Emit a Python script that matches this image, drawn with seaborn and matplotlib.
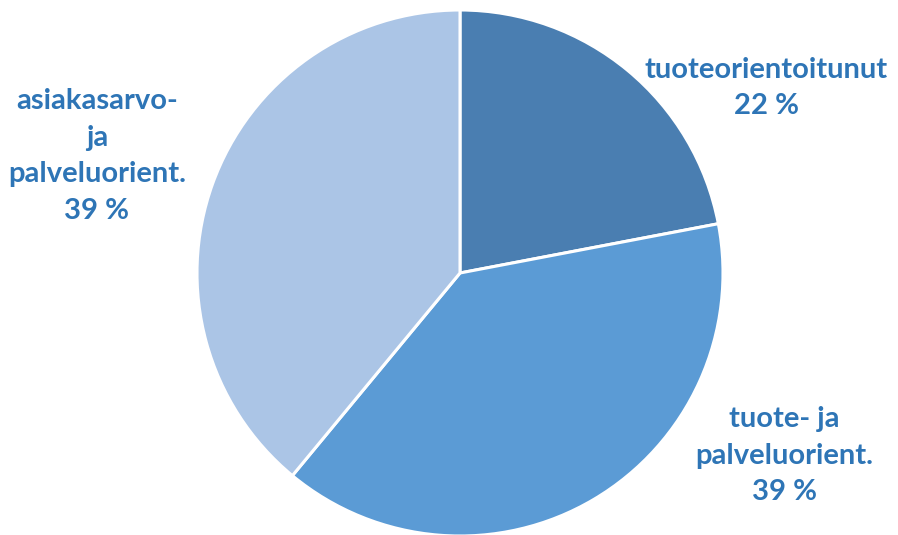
import matplotlib
matplotlib.use("Agg")
import matplotlib.pyplot as plt
import seaborn as sns

categories = ["tuoteorientoitunut", "tuote- ja\npalveluorient.", "asiakasarvo-\nja\npalveluorient."]
values = [22, 39, 39]
colors = ["#4a7eb1", "#5b9bd5", "#abc5e6"]

sns.set_theme(style="white")
plt.rcParams['font.family'] = ['Lato', 'DejaVu Sans']

W, H = 898, 535
fig = plt.figure(figsize=(W / 100, H / 100), dpi=100)
cx, cy, r = 460, 273, 263
ax = fig.add_axes([(cx - r) / W, (H - cy - r) / H, 2 * r / W, 2 * r / H])

ax.pie(values, colors=colors, startangle=90, counterclock=False,
       wedgeprops=dict(edgecolor="white", linewidth=2.2), radius=1)
ax.set_xlim(-1, 1)
ax.set_ylim(-1, 1)
ax.set_aspect("equal")
ax.axis("off")

label_pos = [(766, 88), (784, 456), (97, 156)]
txtcol = "#2e75b6"
for cat, v, (px, py) in zip(categories, values, label_pos):
    ax.text((px - cx) / r, (cy - py) / r, f"{cat}\n{v} %", ha="center", va="center",
            color=txtcol, fontsize=21, fontweight="bold", linespacing=1.5,
            clip_on=False)

fig.savefig("out.png", dpi=100)
